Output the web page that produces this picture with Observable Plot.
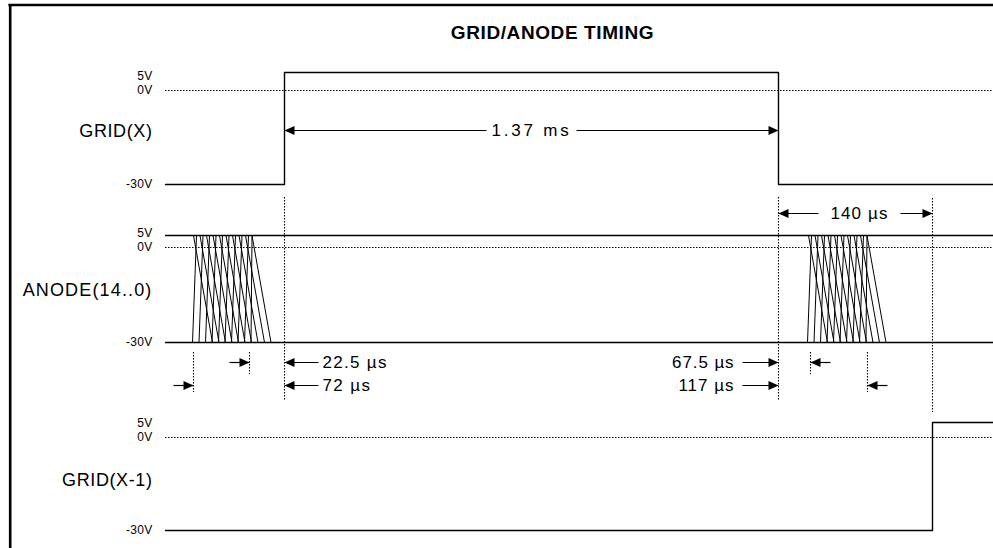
<!DOCTYPE html>
<html>
<head>
<meta charset="utf-8">
<script src="https://cdn.jsdelivr.net/npm/d3@7"></script>
<script src="https://cdn.jsdelivr.net/npm/@observablehq/plot@0.6"></script>
<style>
  html, body { margin: 0; padding: 0; background: #fff; overflow: hidden; }
</style>
</head>
<body>
<div id="chart"></div>
<script>
// ---- Diagram data (time axis in diagram units, level axis in diagram units) ----
const title = "GRID/ANODE TIMING";
const signals = ["GRID(X)", "ANODE(14..0)", "GRID(X-1)"];
const signalLabelY = [131, 290, 480];
const levelNames = ["5V", "0V", "-30V"];
// per-signal level positions: [5V, 0V, -30V]
const gridXLevels = [72, 90, 184];
const anodeLevels = [235, 247, 342];
const gridX1Levels = [422, 437, 530];
const tStart = 165, tEnd = 993;
const gridXEdges = [284, 778];      // rise, fall
const gridX1Edges = [932];          // rise
// anode bus transitions (two bursts, offsets from burst start)
const anodeBurstStart = [193, 808];
const fallTop    = [0, 6.5, 13, 19.5, 26, 32.5, 39, 45.5, 52, 58.5];
const fallBottom = [19, 25.5, 32, 38.5, 45, 51.5, 58, 64.5, 71, 77.5];
const riseTop    = [3, 9.5, 16, 22.5, 29, 35.5, 42, 48.5, 55, 58.5];
const riseBottom = [-1, 5.5, 12, 18.5, 25, 31.5, 38, 44.5, 51, 57.5];
// dotted time markers
const markers = [
  {t: 284, y1: 197, y2: 400}, {t: 778, y1: 197, y2: 400}, {t: 932, y1: 198, y2: 412},
  {t: 249, y1: 352, y2: 374}, {t: 193, y1: 352, y2: 392},
  {t: 810, y1: 352, y2: 374}, {t: 867, y1: 352, y2: 392}
];
// dimension arrows
const spans = [
  {label: "1.37 ms", from: 284, to: 778, y: 130, gapL: 486, gapR: 576},
  {label: "140 µs", from: 778, to: 932, y: 213, gapL: 818, gapR: 900}
];
const pointerRows = [362, 385];
const pointers = [
  {at: 284, dir: "left", row: 0, len: 34, label: "22.5 µs"},
  {at: 284, dir: "left", row: 1, len: 34, label: "72 µs"},
  {at: 778, dir: "right", row: 0, len: 36, label: "67.5 µs"},
  {at: 778, dir: "right", row: 1, len: 36, label: "117 µs"},
  {at: 249, dir: "right", row: 0, len: 20},
  {at: 193, dir: "right", row: 1, len: 20},
  {at: 810, dir: "left", row: 0, len: 20},
  {at: 867, dir: "left", row: 1, len: 20}
];
// letter spacing of the rendered labels (px)
const labelSpacing = {
  "GRID/ANODE TIMING": 0.6, "GRID(X)": 0.6, "ANODE(14..0)": 1.15, "GRID(X-1)": 0.6,
  "1.37 ms": 2.8, "140 µs": 1.1, "22.5 µs": 1.3, "72 µs": 1.4, "67.5 µs": 0.9, "117 µs": 1.0,
  "5V": 0.3, "0V": 0.3, "-30V": 0.3
};

// ---- derived tables ----
const lanes = [gridXLevels, anodeLevels, gridX1Levels];
const solidLines = [{y: anodeLevels[0]}, {y: anodeLevels[2]}];
const dottedLines = [];
const levelLabels = [];
lanes.forEach(lv => {
  dottedLines.push({y: lv[1]});
  levelLabels.push({text: levelNames[0], y: lv[1] - 14});
  levelLabels.push({text: levelNames[1], y: lv[1]});
  levelLabels.push({text: levelNames[2], y: lv[2]});
});

const gridXWave = [
  {t: tStart, y: gridXLevels[2]}, {t: gridXEdges[0], y: gridXLevels[2]},
  {t: gridXEdges[0], y: gridXLevels[0]}, {t: gridXEdges[1], y: gridXLevels[0]},
  {t: gridXEdges[1], y: gridXLevels[2]}, {t: tEnd, y: gridXLevels[2]}
];
const gridX1Wave = [
  {t: tStart, y: gridX1Levels[2]}, {t: gridX1Edges[0], y: gridX1Levels[2]},
  {t: gridX1Edges[0], y: gridX1Levels[0]}, {t: tEnd, y: gridX1Levels[0]}
];
const anodeLinks = [];
anodeBurstStart.forEach(s => {
  fallTop.forEach((v, i) => anodeLinks.push({x1: s + v, x2: s + fallBottom[i]}));
  riseTop.forEach((v, i) => anodeLinks.push({x1: s + v, x2: s + riseBottom[i]}));
});

const spanSegs = [];
const heads = [];
spans.forEach(s => {
  spanSegs.push({x1: s.from, x2: s.gapL, y: s.y}, {x1: s.gapR, x2: s.to, y: s.y});
  heads.push({t: s.from, y: s.y, dir: "left"}, {t: s.to, y: s.y, dir: "right"});
});
const pointerTexts = [];
pointers.forEach(p => {
  const y = pointerRows[p.row];
  const other = p.dir === "left" ? p.at + p.len : p.at - p.len;
  spanSegs.push({x1: p.at, x2: other, y});
  heads.push({t: p.at, y, dir: p.dir});
  if (p.label) pointerTexts.push({text: p.label, t: p.dir === "left" ? other + 4 : other - 8, y, anchor: p.dir === "left" ? "start" : "end"});
});

const headRight = {draw(ctx) { ctx.moveTo(0, 0); ctx.lineTo(-10, -4.5); ctx.lineTo(-10, 4.5); ctx.closePath(); }};
const headLeft  = {draw(ctx) { ctx.moveTo(0, 0); ctx.lineTo(10, -4.5); ctx.lineTo(10, 4.5); ctx.closePath(); }};

const font = "'Liberation Sans', Arial, Helvetica, sans-serif";

const plot = Plot.plot({
  width: 993,
  height: 548,
  margin: 0,
  x: {domain: [0, 993], range: [0, 993], axis: null},
  y: {domain: [0, 548], range: [0, 548], axis: null},
  style: {background: "#fff", fontFamily: font, color: "#000"},
  marks: [
    // frame
    Plot.ruleX([9.7], {y1: 4.5, y2: 548, stroke: "#000", strokeWidth: 2.6}),
    Plot.ruleY([4.5], {x1: 8.4, x2: 993, stroke: "#000", strokeWidth: 2.6}),
    // 0V dotted references
    Plot.ruleY(dottedLines, {y: "y", x1: tStart, x2: tEnd, stroke: "#000", strokeWidth: 1.1, strokeDasharray: "1.5,1.5"}),
    // anode bus rails
    Plot.ruleY(solidLines, {y: "y", x1: tStart, x2: tEnd, stroke: "#000", strokeWidth: 1.3}),
    // waveforms
    Plot.line(gridXWave, {x: "t", y: "y", stroke: "#000", strokeWidth: 1.4}),
    Plot.line(gridX1Wave, {x: "t", y: "y", stroke: "#000", strokeWidth: 1.4}),
    Plot.link(anodeLinks, {x1: "x1", x2: "x2", y1: anodeLevels[0], y2: anodeLevels[2], stroke: "#000", strokeWidth: 1}),
    // dotted time markers
    Plot.ruleX(markers, {x: "t", y1: "y1", y2: "y2", stroke: "#000", strokeWidth: 1.1, strokeDasharray: "1.5,1.5"}),
    // arrows
    Plot.link(spanSegs, {x1: "x1", x2: "x2", y1: "y", y2: "y", stroke: "#000", strokeWidth: 1.2}),
    Plot.dot(heads.filter(d => d.dir === "right"), {x: "t", y: "y", symbol: headRight, fill: "#000", stroke: null}),
    Plot.dot(heads.filter(d => d.dir === "left"), {x: "t", y: "y", symbol: headLeft, fill: "#000", stroke: null}),
    // texts
    Plot.text([title], {x: 552, y: 32, fontSize: 19, fontWeight: "bold", fontFamily: font, fill: "#000"}),
    Plot.text(signals, {x: 152, y: (d, i) => signalLabelY[i], text: d => d, textAnchor: "end", fontSize: 18, fontFamily: font, fill: "#000"}),
    Plot.text(levelLabels, {x: 152, y: "y", text: "text", textAnchor: "end", fontSize: 12, fontFamily: font, fill: "#000"}),
    Plot.text(spans, {x: d => (d.gapL + d.gapR) / 2, y: "y", text: "label", fontSize: 17, fontFamily: font, fill: "#000"}),
    Plot.text(pointerTexts.filter(d => d.anchor === "start"), {x: "t", y: "y", text: "text", textAnchor: "start", fontSize: 17, fontFamily: font, fill: "#000"}),
    Plot.text(pointerTexts.filter(d => d.anchor === "end"), {x: "t", y: "y", text: "text", textAnchor: "end", fontSize: 17, fontFamily: font, fill: "#000"})
  ]
});
// apply label letter spacing
d3.select(plot).selectAll("text").each(function () {
  const s = labelSpacing[this.textContent];
  if (s != null) this.setAttribute("letter-spacing", s);
});
document.getElementById("chart").appendChild(plot);
</script>
</body>
</html>
